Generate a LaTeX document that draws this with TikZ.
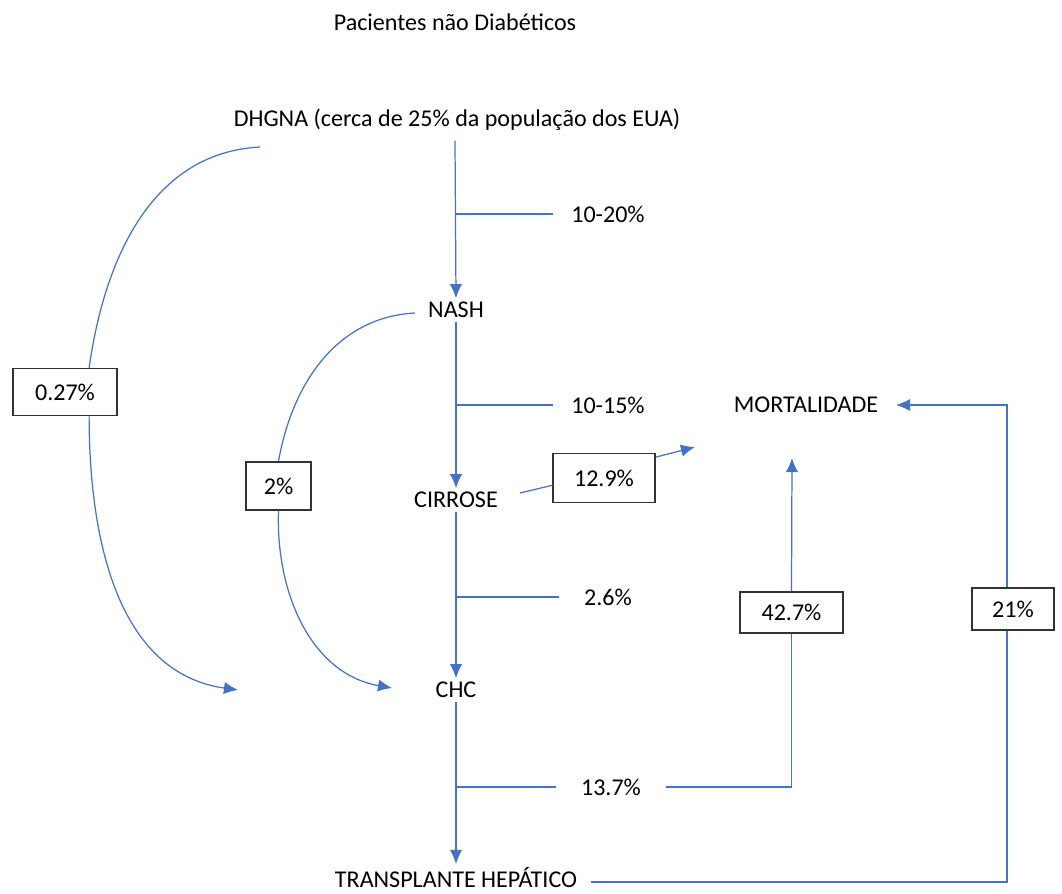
\documentclass[tikz,border=0pt]{standalone}
\usepackage{fontspec}
\setmainfont{Carlito}
\usetikzlibrary{arrows.meta}
\definecolor{linkblue}{HTML}{4472C4}
\tikzset{flow/.style={draw=linkblue, line width=0.7pt, -{Latex[length=8pt,width=7pt]}}}
\tikzset{link/.style={draw=linkblue, line width=0.7pt}}
\tikzset{stage/.style={inner sep=2pt}}
\tikzset{lbl/.style={inner xsep=10pt, inner ysep=2pt}}
\tikzset{ratebox/.style={draw=black!80, fill=white, line width=0.7pt, inner sep=0pt}}

\begin{document}
\begin{tikzpicture}[x=0.02cm, y=-0.02cm, font=\fontsize{13.7}{16}\selectfont]
				\useasboundingbox (0,0) rectangle (1062,893);
				% stages
				\node[stage] (title) at (455,22) {Pacientes não Diabéticos};
				\node[stage] (dhgna) at (457,120) {DHGNA (cerca de 25\% da população dos EUA)};
				\node[stage] (nash) at (456,310) {NASH};
				\node[stage] (cirrose) at (456,500) {CIRROSE};
				\node[stage] (chc) at (456,690) {CHC};
				\node[stage] (transp) at (456,878) {TRANSPLANTE HEPÁTICO};
				\node[stage] (mort) at (806,405) {MORTALIDADE};
				% rates on the main chain
				\node[lbl] (r1) at (608,214) {10-20\%};
				\node[lbl] (r2) at (608,405) {10-15\%};
				\node[lbl, inner xsep=14pt] (r3) at (608,597) {2.6\%};
				\node[lbl, inner xsep=14pt] (r4) at (611,787) {13.7\%};
				\coordinate (b1) at (455,214);
				\coordinate (b2) at (455,405);
				\coordinate (b3) at (455,597);
				\coordinate (b4) at (455,787);
				% boxed rates
				\node[ratebox, minimum width=104*0.02cm, minimum height=47*0.02cm] (p027) at (65,392) {0.27\%};
				\node[ratebox, minimum width=65*0.02cm, minimum height=48*0.02cm] (p2) at (278.5,486) {2\%};
				\node[ratebox, minimum width=102*0.02cm, minimum height=49*0.02cm] (p129) at (604,478) {12.9\%};
				\node[ratebox, minimum width=103*0.02cm, minimum height=41*0.02cm] (p427) at (791.5,612.5) {42.7\%};
				\node[ratebox, minimum width=82*0.02cm, minimum height=42*0.02cm] (p21) at (1013,609) {21\%};
				% free ends
				\coordinate (dh-out) at (260,147);
				\coordinate (nash-out) at (415,313);
				\coordinate (chc-far) at (238,690);
				\coordinate (chc-near) at (392,688);
				\coordinate (cirr-out) at (520,493);
				\coordinate (mort-in) at (695,447);
				\coordinate (mort-up) at (792,458);

				\draw[flow] (dhgna.south) ++(-2,6) -- (nash.north);
				\draw[flow] (nash.south) -- (cirrose.north);
				\draw[flow] (cirrose.south) -- (chc.north);
				\draw[flow] (chc.south) -- (transp.north);
				\draw[link] (b1) -- (r1.west);
				\draw[link] (b2) -- (r2.west);
				\draw[link] (b3) -- (r3.west);
				\draw[link] (b4) -- (r4.west);

				\draw[link] (dh-out) to[out=183, in=82] (p027.45);
				\draw[flow] (p027.-45) to[out=-90, in=172] (chc-far);
				\draw[link] (nash-out) to[out=183, in=80] (p2.north);
				\draw[flow] (p2.south) to[out=-92, in=170] (chc-near);

				\draw[link] (cirr-out) -- (p129.188);
				\draw[flow] (p129.22) -- (mort-in);
				\draw[link] (r4.east) -| (p427.south);
				\draw[flow] (p427.north) -- (mort-up);
				\draw[link] (transp.east) ++(10,4) -| ([xshift=-0.12cm]p21.south);
				\draw[flow] ([xshift=-0.12cm]p21.north) |- ([xshift=8pt]mort.east);
				\end{tikzpicture}
\end{document}
